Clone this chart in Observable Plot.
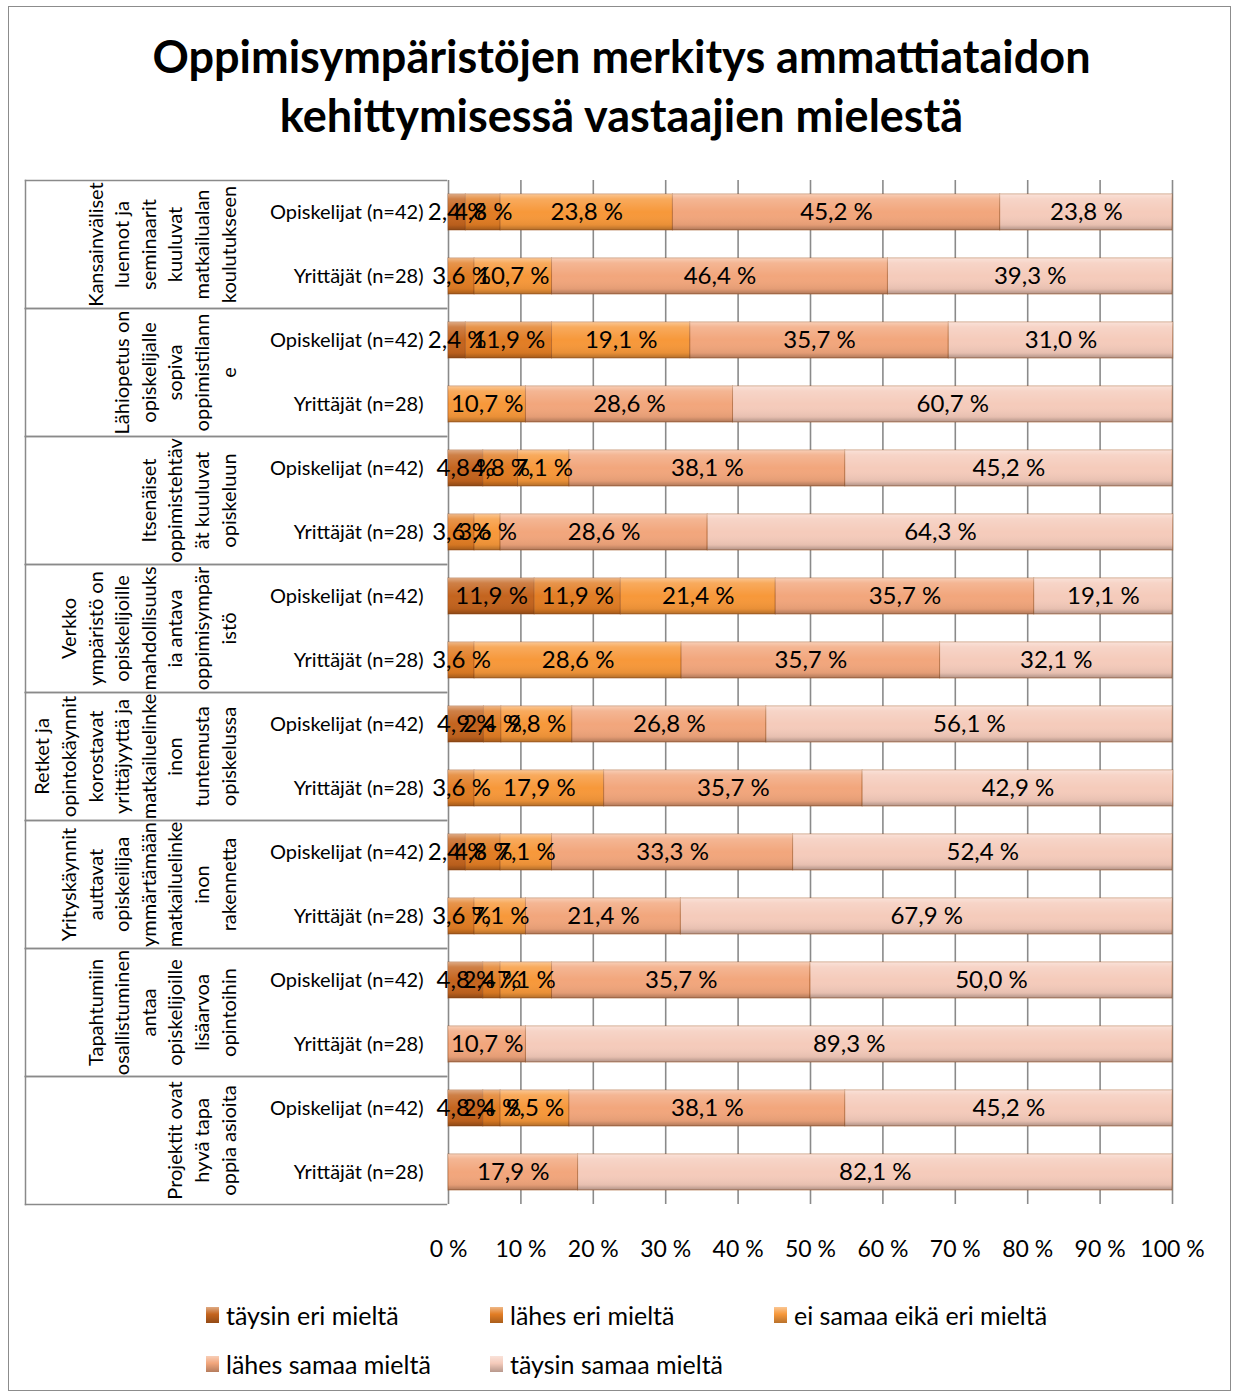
<!DOCTYPE html>
<html>
<head>
<meta charset="utf-8">
<script src="https://cdn.jsdelivr.net/npm/d3@7"></script>
<script src="https://cdn.jsdelivr.net/npm/@observablehq/plot@0.6"></script>
<style>
  body { margin: 0; background: #fff; font-family: Lato, "Open Sans", sans-serif; }
  #page { position: relative; width: 1235px; height: 1394px; overflow: hidden; }
  #border { position: absolute; left: 8px; top: 6px; width: 1223px; height: 1385px; border: 1.5px solid #8c8c8c; box-sizing: border-box; }
  #title { position: absolute; left: 8px; width: 1227px; top: 27px; text-align: center; font-weight: 700; font-size: 45px; line-height: 59px; color: #000; }
  #chart { position: absolute; left: 0; top: 160px; }
  #legend { position: absolute; left: 206px; top: 1300px; width: 1000px; font-size: 25px; color: #000; }
  .item { position: absolute; display: flex; align-items: center; white-space: nowrap; }
  .sw { width: 13px; height: 16px; margin-right: 7px; position: relative; }
  .sw::after { content: ""; position: absolute; inset: 0; background: linear-gradient(180deg, rgba(255,255,255,0.45), rgba(255,255,255,0) 45%, rgba(0,0,0,0.25)); }
</style>
</head>
<body>
<svg width="0" height="0" style="position:absolute">
  <defs>
    <linearGradient id="shine" x1="0" y1="0" x2="0" y2="1">
      <stop offset="0" stop-color="#fff" stop-opacity="0.45"/>
      <stop offset="0.14" stop-color="#fff" stop-opacity="0.18"/>
      <stop offset="0.5" stop-color="#fff" stop-opacity="0"/>
      <stop offset="0.86" stop-color="#000" stop-opacity="0.06"/>
      <stop offset="1" stop-color="#000" stop-opacity="0.28"/>
    </linearGradient>
  </defs>
</svg>
<div id="page">
  <div id="border"></div>
  <div id="title">Oppimisympäristöjen merkitys ammattiataidon<br>kehittymisessä vastaajien mielestä</div>
  <div id="chart"></div>
  <div id="legend"></div>
</div>
<script>
const categories = [
  "Kansainväliset\nluennot ja\nseminaarit\nkuuluvat\nmatkailualan\nkoulutukseen",
  "Lähiopetus on\nopiskelijalle\nsopiva\noppimistilann\ne",
  "Itsenäiset\noppimistehtäv\nät kuuluvat\nopiskeluun",
  "Verkko\nympäristö on\nopiskelijoille\nmahdollisuuks\nia antava\noppimisympär\nistö",
  "Retket ja\nopintokäynnit\nkorostavat\nyrittäjyyttä ja\nmatkailuelinke\ninon\ntuntemusta\nopiskelussa",
  "Yrityskäynnit\nauttavat\nopiskeilijaa\nymmärtämään\nmatkailuelinke\ninon\nrakennetta",
  "Tapahtumiin\nosallistuminen\nantaa\nopiskelijoille\nlisäarvoa\nopintoihin",
  "Projektit ovat\nhyvä tapa\noppia asioita"
];
const groups = ["Opiskelijat (n=42)", "Yrittäjät (n=28)"];
const levels = ["täysin eri mieltä", "lähes eri mieltä", "ei samaa eikä eri mieltä", "lähes samaa mieltä", "täysin samaa mieltä"];
const levelColors = ["#c4641e", "#e27d24", "#f7983a", "#f2a67c", "#f5cbbb"];

// values per category, in level order
const opiskelijat = [
  [2.4, 4.8, 23.8, 45.2, 23.8],
  [2.4, 11.9, 19.1, 35.7, 31.0],
  [4.8, 4.8, 7.1, 38.1, 45.2],
  [11.9, 11.9, 21.4, 35.7, 19.1],
  [4.9, 2.4, 9.8, 26.8, 56.1],
  [2.4, 4.8, 7.1, 33.3, 52.4],
  [4.8, 2.4, 7.1, 35.7, 50.0],
  [4.8, 2.4, 9.5, 38.1, 45.2]
];
const yrittajat = [
  [0, 3.6, 10.7, 46.4, 39.3],
  [0, 0, 10.7, 28.6, 60.7],
  [0, 3.6, 3.6, 28.6, 64.3],
  [0, 3.6, 28.6, 35.7, 32.1],
  [0, 3.6, 17.9, 35.7, 42.9],
  [0, 3.6, 7.1, 21.4, 67.9],
  [0, 0, 0, 10.7, 89.3],
  [0, 0, 0, 17.9, 82.1]
];
const xTicks = [0, 10, 20, 30, 40, 50, 60, 70, 80, 90, 100];

const table = [];
categories.forEach((c, i) => {
  [opiskelijat[i], yrittajat[i]].forEach((vals, g) => {
    vals.forEach((v, k) => {
      if (v > 0) table.push({category: c, group: groups[g], level: levels[k], value: v});
    });
  });
});

const fmt = v => v.toFixed(1).replace(".", ",") + " %";

const stackOpts = {x: "value", y: "group", fy: "category", order: null};

const plot = Plot.plot({
  width: 1235,
  height: 1105,
  marginTop: 18,
  marginBottom: 60,
  marginLeft: 448,
  marginRight: 63,
  style: {fontFamily: "Lato, 'Open Sans', sans-serif", fontSize: "20px", background: "transparent", overflow: "visible", color: "#000"},
  x: {domain: [0, 100]},
  y: {domain: groups, padding: 0},
  fy: {domain: categories, padding: 0, axis: null},
  color: {domain: levels, range: levelColors},
  marks: [
    Plot.ruleX(xTicks, {stroke: "#8a8a8a", strokeWidth: 1.6}),
    Plot.frame({anchor: "top", stroke: "#8a8a8a", strokeWidth: 1.5, insetLeft: -423, insetRight: 726}),
    Plot.frame({anchor: "bottom", stroke: "#8a8a8a", strokeWidth: 1.5, insetLeft: -423, insetRight: 726}),
    Plot.frame({anchor: "left", stroke: "#8a8a8a", strokeWidth: 1.5, insetLeft: -423}),
    Plot.barX(table, Plot.stackX({...stackOpts, fill: "level", insetTop: 14, insetBottom: 14, stroke: "#a0521c", strokeOpacity: 0.55, strokeWidth: 1})),
    Plot.barX(table, Plot.stackX({...stackOpts, fill: "url(#shine)", insetTop: 14, insetBottom: 14})),
    Plot.text(table, Plot.stackX({...stackOpts, text: d => fmt(d.value), fontSize: 24, fill: "#000"})),
    Plot.text(categories, {fy: d => d, text: d => d, frameAnchor: "left", dx: -213, rotate: -90, textAnchor: "middle", lineAnchor: "bottom", lineHeight: 1.33, fontSize: 20, fill: "#000"}),
    Plot.axisY({tickSize: 0, tickPadding: 25, fontSize: 20, label: null, fill: "#000"}),
    Plot.axisX({ticks: xTicks, tickFormat: d => d + " %", tickSize: 0, tickPadding: 36, fontSize: 23, label: null, fill: "#000"})
  ]
});
document.getElementById("chart").appendChild(plot);

// legend
const legend = document.getElementById("legend");
const positions = [[0, 0], [284, 0], [568, 0], [0, 49], [284, 49]];
levels.forEach((l, i) => {
  const item = document.createElement("div");
  item.className = "item";
  item.style.left = positions[i][0] + "px";
  item.style.top = positions[i][1] + "px";
  const sw = document.createElement("div");
  sw.className = "sw";
  sw.style.background = levelColors[i];
  const t = document.createElement("span");
  t.textContent = l;
  item.appendChild(sw);
  item.appendChild(t);
  legend.appendChild(item);
});
</script>
</body>
</html>
